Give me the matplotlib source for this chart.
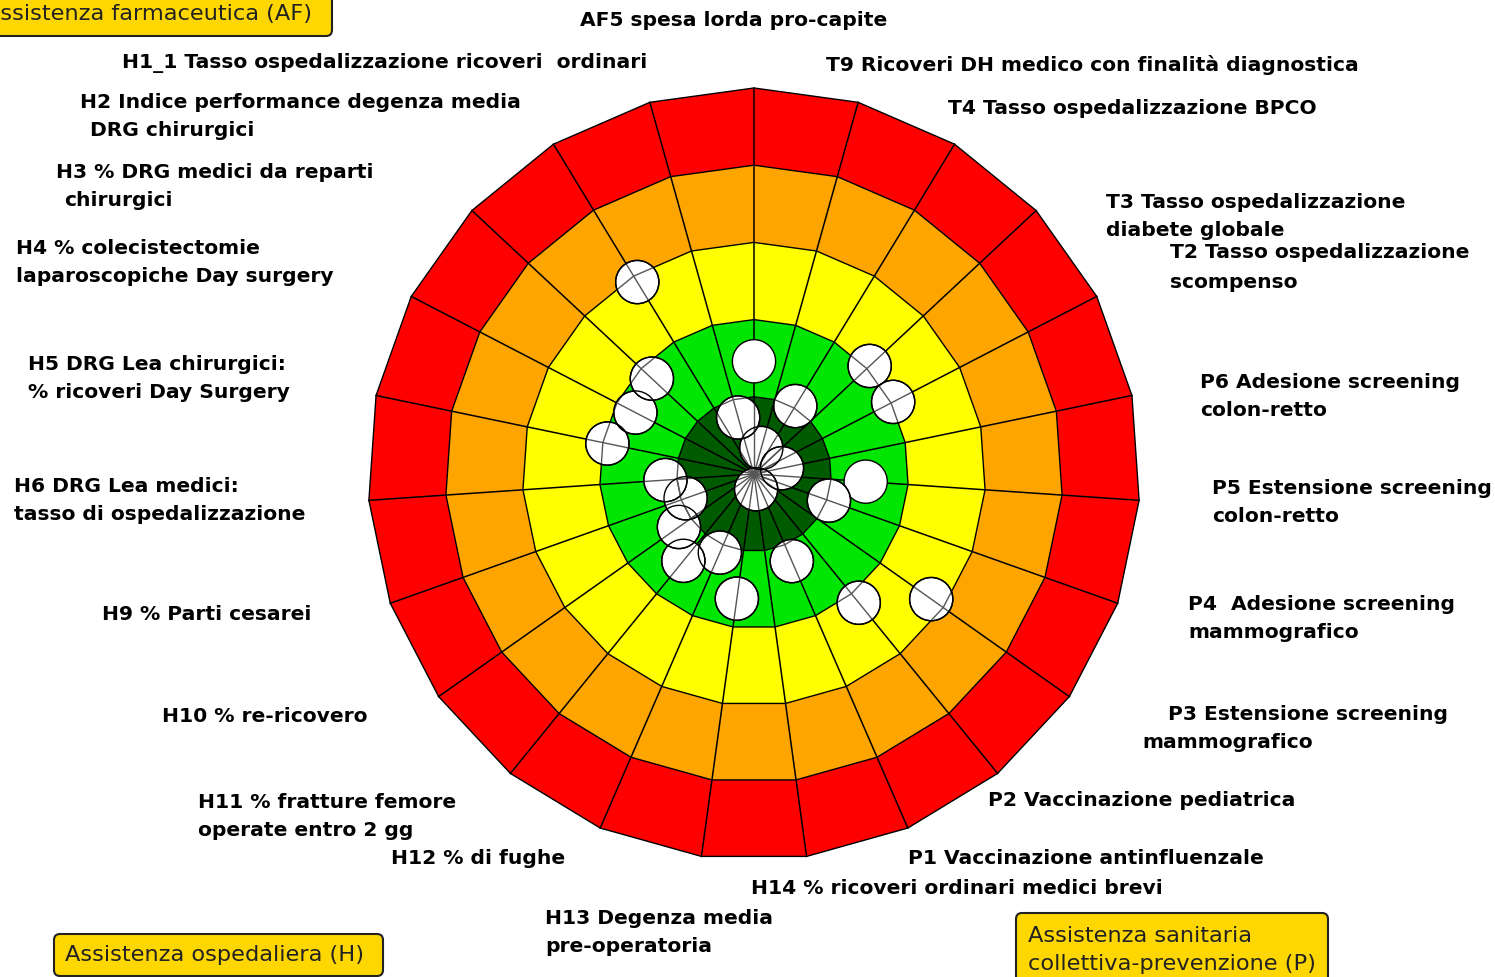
import numpy as np
import matplotlib
matplotlib.use("Agg")
import matplotlib.pyplot as plt
from matplotlib.patches import Polygon, Circle, FancyBboxPatch

# ---------------- data ----------------
codes = ["AF5", "T9", "T4", "T3", "T2", "P6", "P5", "P4", "P3", "P2", "P1", "H14",
         "H13", "H12", "H11", "H10", "H9", "H6", "H5", "H4", "H3", "H2", "H1_1"]

labels = [
    "AF5 spesa lorda pro-capite",
    "T9 Ricoveri DH medico con finalità diagnostica",
    "T4 Tasso ospedalizzazione BPCO",
    "T3 Tasso ospedalizzazione\ndiabete globale",
    "T2 Tasso ospedalizzazione\nscompenso",
    "P6 Adesione screening\ncolon-retto",
    "P5 Estensione screening\ncolon-retto",
    "P4  Adesione screening\nmammografico",
    "P3 Estensione screening\nmammografico",
    "P2 Vaccinazione pediatrica",
    "P1 Vaccinazione antinfluenzale",
    "H14 % ricoveri ordinari medici brevi",
    "H13 Degenza media\npre-operatoria",
    "H12 % di fughe",
    "H11 % fratture femore\noperate entro 2 gg",
    "H10 % re-ricovero",
    "H9 % Parti cesarei",
    "H6 DRG Lea medici:\ntasso di ospedalizzazione",
    "H5 DRG Lea chirurgici:\n% ricoveri Day Surgery",
    "H4 % colecistectomie\nlaparoscopiche Day surgery",
    "H3 % DRG medici da reparti\nchirurgici",
    "H2 Indice performance degenza media\nDRG chirurgici",
    "H1_1 Tasso ospedalizzazione ricoveri  ordinari",
]

# performance scores (0 = worst, outer ring; 5 = best, centre)
scores = [3.54, 4.65, 3.97, 2.95, 2.97, 4.63, 3.55, 3.97, 2.19, 2.85, 3.77, 4.80,
          3.37, 3.89, 3.55, 3.81, 4.06, 3.85, 3.06, 3.27, 3.19, 2.09, 4.24]

band_limits = [5, 4, 3, 2, 1]
band_colors = ["#FF0000", "#FFA500", "#FFFF00", "#00E600", "#005A00"]

group_boxes = ["Assistenza farmaceutica (AF)",
               "Assistenza ospedaliera (H)",
               "Assistenza sanitaria\ncollettiva-prevenzione (P)"]

opaque_codes = ["AF5", "P5"]

# ---------------- layout ----------------
W, H = 1495, 978
CX, CY = 754, 475
UNIT = 77.2  # pixels per score unit

fig = plt.figure(figsize=(W / 100, H / 100), dpi=100)
ax = fig.add_axes([0, 0, 1, 1])
ax.set_xlim(-CX / UNIT, (W - CX) / UNIT)
ax.set_ylim((CY - H) / UNIT, CY / UNIT)
ax.axis("off")

n = len(codes)
theta = np.arange(n) * 2 * np.pi / n  # clockwise from top

def pos(r, th):
    return r * np.sin(th), r * np.cos(th)

for lim, col in zip(band_limits, band_colors):
    pts = np.column_stack(pos(lim, theta))
    ax.add_patch(Polygon(pts, closed=True, facecolor=col, edgecolor="black",
                         linewidth=1.0, zorder=1))

spoke_ends = [pos(band_limits[0], th) for th in theta]
for x, y in spoke_ends:
    ax.plot([0, x], [0, y], color="black", linewidth=1.1, zorder=2)

for code, sc, th in zip(codes, scores, theta):
    r = band_limits[0] - sc
    x, y = pos(r, th)
    circ = Circle((x, y), 0.28, facecolor="white", edgecolor="black",
                  linewidth=1.0, zorder=3)
    ax.add_patch(circ)
    if code in opaque_codes:
        continue
    # faint grid lines showing through the disc
    for ex, ey in spoke_ends:
        ln, = ax.plot([0, ex], [0, ey], color="#555555", linewidth=1.0, zorder=3.1)
        ln.set_clip_path(circ)
    for lim in band_limits:
        pts = np.column_stack(pos(lim, np.append(theta, theta[0])))
        ln, = ax.plot(pts[:, 0], pts[:, 1], color="#555555", linewidth=1.0, zorder=3.1)
        ln.set_clip_path(circ)
    edge = Circle((x, y), 0.28, facecolor="none", edgecolor="black",
                  linewidth=1.0, zorder=3.2)
    ax.add_patch(edge)

# overlay axes in pixel coordinates for labels
ax2 = fig.add_axes([0, 0, 1, 1], facecolor="none")
ax2.set_xlim(0, W)
ax2.set_ylim(H, 0)
ax2.axis("off")

label_pos = {
    "AF5": [(580, 21)],
    "T9": [(826, 65)],
    "T4": [(948, 109)],
    "T3": [(1106, 203), (1106, 231)],
    "T2": [(1170, 253), (1170, 282)],
    "P6": [(1200, 382), (1200, 410)],
    "P5": [(1212, 488), (1212, 516)],
    "P4": [(1188, 604), (1188, 632)],
    "P3": [(1168, 714), (1142, 742)],
    "P2": [(988, 800)],
    "P1": [(908, 858)],
    "H14": [(751, 888)],
    "H13": [(545, 918), (545, 946)],
    "H12": [(391, 858)],
    "H11": [(198, 802), (198, 830)],
    "H10": [(162, 716)],
    "H9": [(102, 614)],
    "H6": [(14, 486), (14, 514)],
    "H5": [(28, 364), (28, 392)],
    "H4": [(16, 248), (16, 276)],
    "H3": [(56, 173), (64, 201)],
    "H2": [(80, 103), (90, 131)],
    "H1_1": [(122, 63)],
}

for code, lab in zip(codes, labels):
    for line, (x, y) in zip(lab.split("\n"), label_pos[code]):
        ax2.text(x, y, line, fontsize=14.6, fontweight="bold", family="DejaVu Sans",
                 ha="left", va="center", color="black")

box_geom = [(-40, -20, 372, 57), (54, 935, 329, 42), (1016, 914, 312, 80)]
box_text = [[(312, 14, "right")], [(65, 955, "left")],
            [(1028, 936, "left"), (1028, 964, "left")]]
for txt, (bx, by, bw, bh), tpos in zip(group_boxes, box_geom, box_text):
    ax2.add_patch(FancyBboxPatch((bx + 6, by + 6), bw - 12, bh - 12,
                                 boxstyle="round,pad=6", facecolor="#FFD700",
                                 edgecolor="#222222", linewidth=1.5))
    for line, (x, y, ha) in zip(txt.split("\n"), tpos):
        ax2.text(x, y, line, fontsize=16.2, family="DejaVu Sans",
                 ha=ha, va="center", color="#222222")

fig.savefig("out.png", dpi=100)
